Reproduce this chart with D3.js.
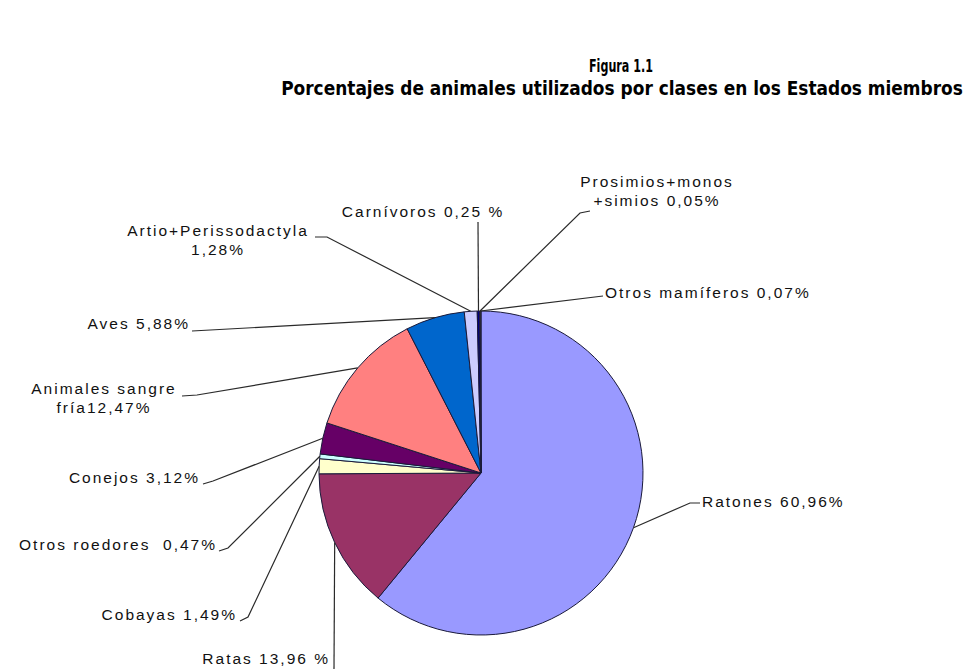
<!DOCTYPE html>
<html>
<head>
<meta charset="utf-8">
<script src="https://cdn.jsdelivr.net/npm/d3@7"></script>
<style>
  body { margin: 0; background: #fff; }
  svg { display: block; }
</style>
</head>
<body>
<div id="chart"></div>
<script>
// data (percent of animals by class)
const categories = ["Ratones", "Ratas", "Cobayas", "Otros roedores", "Conejos",
    "Animales sangre fría", "Aves", "Artio+Perissodactyla", "Carnívoros",
    "Prosimios+monos+simios", "Otros mamíferos"];
const percents = [60.96, 13.96, 1.49, 0.47, 3.12, 12.47, 5.88, 1.28, 0.25, 0.05, 0.07];
const labelLines = [
    ["Ratones 60,96%"], ["Ratas 13,96 %"], ["Cobayas 1,49%"], ["Otros roedores  0,47%"],
    ["Conejos 3,12%"], ["Animales sangre", "fría12,47%"], ["Aves 5,88%"],
    ["Artio+Perissodactyla", "1,28%"], ["Carnívoros 0,25 %"],
    ["Prosimios+monos", "+simios 0,05%"], ["Otros mamíferos 0,07%"]
];
const colors = ["#9999FF", "#993366", "#FFFFCC", "#CCFFFF", "#660066", "#FF8080",
    "#0066CC", "#CCCCFF", "#000080", "#FF00FF", "#FFFF00"];

const width = 972, height = 669;
const cx = 481, cy = 473, radius = 162;

// where each label sits + the elbow points of its leader line
const labelLayout = [
    { x: 702, y: 507, anchor: "start", leader: [[700, 503], [690, 503]] },
    { x: 330, y: 664, anchor: "end", leader: [[334, 669]] },
    { x: 237, y: 620, anchor: "end", leader: [[240, 621], [248, 617]] },
    { x: 217, y: 550, anchor: "end", leader: [[219, 551], [228, 548]] },
    { x: 200, y: 483, anchor: "end", leader: [[203, 484], [213, 481]] },
    { x: 104, y: 394, anchor: "middle", leader: [[182, 396], [197, 395]] },
    { x: 190, y: 329, anchor: "end", leader: [[192, 331]] },
    { x: 218, y: 236, anchor: "middle", leader: [[315, 237], [327, 237]] },
    { x: 423, y: 217, anchor: "middle", leader: [[478, 222]] },
    { x: 657, y: 187, anchor: "middle", leader: [[590, 211], [580, 213]] },
    { x: 605, y: 298, anchor: "start", leader: [[603, 296]] }
];

const data = categories.map((c, i) => ({ name: c, value: percents[i], index: i }));

const svg = d3.select("#chart")
    .append("svg")
    .attr("width", width)
    .attr("height", height);

// title lines, squeezed horizontally to look like a narrow bold face
function titleLine(str, x, y, size, w) {
    let gt = svg.append("g");
    let t = gt.append("text")
        .attr("x", 0).attr("y", 0)
        .attr("text-anchor", "middle")
        .style("font-family", "'Liberation Sans Narrow', 'DejaVu Sans', sans-serif")
        .style("font-weight", "bold")
        .style("font-size", size + "px")
        .text(str);
    let len = t.node().getComputedTextLength();
    gt.attr("transform", `translate(${x}, ${y}) scale(${w / len}, 1)`);
}
titleLine("Figura 1.1", 621, 72, 18, 64);
titleLine("Porcentajes de animales utilizados por clases en los Estados miembros", 622, 95, 19, 682);

let pie = d3.pie()
    .sort(null)
    .value(d => d.value)
    .startAngle(0)
    .endAngle(2 * Math.PI);

let arcs = pie(data);

let arc = d3.arc()
    .innerRadius(0)
    .outerRadius(radius);

// point on the rim at the middle of a slice
let rimArc = d3.arc()
    .innerRadius(radius)
    .outerRadius(radius);

let g = svg.append("g")
    .attr("transform", `translate(${cx}, ${cy})`);

g.selectAll("path")
    .data(arcs)
    .enter()
    .append("path")
    .attr("d", arc)
    .attr("fill", d => colors[d.data.index])
    .attr("stroke", "#1a1a3a")
    .style("stroke-width", "1px")
    .style("stroke-linejoin", "round");

// leader lines
let line = d3.line();
arcs.forEach(function(d) {
    let lay = labelLayout[d.data.index];
    let p = rimArc.centroid(d);
    let pts = lay.leader.concat([[p[0] + cx, p[1] + cy]]);
    svg.append("path")
        .attr("d", line(pts))
        .attr("fill", "none")
        .attr("stroke", "#2a2a2a")
        .style("stroke-width", "1.2px");
});

// labels
data.forEach(function(d) {
    let lay = labelLayout[d.index];
    let t = svg.append("text")
        .attr("x", lay.x)
        .attr("y", lay.y)
        .attr("text-anchor", lay.anchor)
        .style("font-family", "'Liberation Sans', Arial, sans-serif")
        .style("font-size", "15.5px")
        .style("letter-spacing", "2px")
        .style("white-space", "pre")
        .style("fill", "#111");
    labelLines[d.index].forEach(function(s, k) {
        t.append("tspan")
            .attr("x", lay.x)
            .attr("dy", k === 0 ? 0 : 19)
            .text(s);
    });
});
</script>
</body>
</html>
